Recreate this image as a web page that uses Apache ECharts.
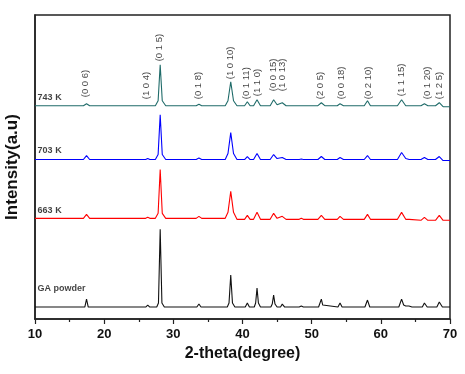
<!DOCTYPE html>
<html><head><meta charset="utf-8">
<script src="https://cdn.jsdelivr.net/npm/echarts@6/dist/echarts.min.js"></script>
<style>html,body{margin:0;padding:0;background:#fff}#c{width:465px;height:374px}</style>
</head><body><div id="c"></div>
<script>
// 2-theta range and ticks
var xTicks = [10, 20, 30, 40, 50, 60, 70];
// Traces: [2theta, stacked intensity] (offset stacking as in the figure)
var gaPowder = [[10,12],[17.2,12],[17.45,20],[17.7,12],[26.0,12],[26.3,14],[26.6,12],[27.6,12],[27.85,16],[28.1,90],[28.35,16],[28.7,12],[33.4,12],[33.7,15],[34.0,12],[37.8,12],[38.05,16],[38.3,44],[38.55,16],[38.9,12],[40.4,12],[40.7,16],[41.0,12],[41.7,12],[41.9,16],[42.1,31],[42.3,16],[42.6,12],[44.1,12],[44.3,15],[44.5,24],[44.7,15],[45.0,12],[45.5,12],[45.75,15],[46.1,12],[48.2,12],[48.5,13],[48.8,12],[51.0,12],[51.2,14],[51.4,20],[51.6,14],[51.8,12],[53.8,12],[54.1,16],[54.4,12],[57.7,12],[58.07,19],[58.4,12],[62.6,12],[62.8,14],[63.0,20],[63.3,14],[63.6,13],[64.06,13],[64.5,12],[66.0,12],[66.3,16],[66.7,12],[68.1,12],[68.45,17],[68.9,12],[70,12]];
var k663 = [[10,101],[17.0,101],[17.45,105],[17.9,101],[26.0,101],[26.3,102],[26.6,101],[27.4,101],[27.8,106],[28.1,150],[28.4,106],[28.9,101],[33.3,101],[33.7,103],[34.1,101],[37.5,101],[37.9,107],[38.3,128],[38.7,107],[39.2,100],[40.3,100],[40.7,104],[41.1,100],[41.6,100],[42.1,107],[42.6,100],[44.0,100],[44.5,106],[45.0,101],[45.75,103],[46.3,100],[48.2,100],[48.5,101],[48.8,100],[50.9,100],[51.4,104],[51.9,100],[53.7,100],[54.1,103],[54.6,100],[57.6,100],[58.07,105],[58.5,100],[62.4,100],[63.0,107],[63.6,100],[64.1,100],[65.8,99],[66.3,102],[66.8,99],[67.9,99],[68.45,104],[69.0,99],[70,99]];
var k703 = [[10,160],[17.0,160],[17.45,164],[17.9,160],[26.0,160],[26.3,161],[26.6,160],[27.4,160],[27.8,165],[28.1,205],[28.4,165],[28.9,160],[33.3,160],[33.7,161.5],[34.1,160],[37.5,160],[37.9,166],[38.3,187],[38.7,166],[39.2,160],[40.3,160],[40.7,163],[41.1,160],[41.6,160],[42.1,166],[42.6,160],[44.0,160],[44.5,165],[45.0,161],[45.75,162],[46.3,160],[48.2,160],[48.5,160.5],[48.8,160],[50.9,160],[51.4,163],[51.9,160],[53.7,160],[54.1,162],[54.6,160],[57.6,160],[58.07,164],[58.5,160],[62.4,160],[63.0,167],[63.6,161],[64.1,160],[65.8,160],[66.3,162],[66.8,160],[67.9,160],[68.45,163],[69.0,159],[70,159]];
var k743 = [[10,214],[17.0,214],[17.45,216],[17.9,214],[27.4,214],[27.8,219],[28.1,255],[28.4,219],[28.9,214],[33.3,214],[33.7,215.5],[34.1,214],[37.5,214],[37.9,219],[38.3,238],[38.7,219],[39.2,214],[40.3,214],[40.7,218],[41.1,214],[41.6,214],[42.1,220],[42.6,214],[44.0,214],[44.5,220],[45.0,215],[45.75,217],[46.3,214],[50.9,214],[51.4,217],[51.9,214],[53.7,214],[54.1,216],[54.6,214],[57.6,214],[58.07,219],[58.5,214],[62.4,214],[63.0,220],[63.6,214],[65.8,214],[66.3,216],[66.8,214],[67.9,214],[68.45,217],[69.0,213],[70,213]];
// Miller index annotations: text, 2theta, y (bottom of text)
var hklText = ['(0 0 6)','(1 0 4)','(0 1 5)','(0 1 8)','(1 0 10)','(0 1 11)','(1 1 0)','(0 0 15)','(1 0 13)','(2 0 5)','(0 0 18)','(0 2 10)','(1 1 15)','(0 1 20)','(1 2 5)'];
var hklX = [17.4, 26.2, 28.1, 33.7, 38.3, 40.6, 42.2, 44.5, 45.8, 51.4, 54.3, 58.3, 63.0, 66.8, 68.6];
var hklY = [222, 220, 258, 220, 240, 220, 223, 228, 228, 220, 220, 220, 223, 220, 220];
// Series names
var seriesNames = ['743 K', '703 K', '663 K', 'GA powder'];
var nameY = [222, 169, 108, 30];
var colors = ['#1f6b69', '#0000ff', '#ff0000', '#111111'];

var chart = echarts.init(document.getElementById('c'), null, {renderer: 'canvas'});
var traces = [k743, k703, k663, gaPowder];
var series = traces.map(function (d, i) {
  return {type: 'line', data: d, showSymbol: false, symbol: 'none', silent: true,
    lineStyle: {color: colors[i], width: 1.1}, z: 3};
});
series.push({
  type: 'scatter', symbolSize: 1, itemStyle: {color: 'rgba(0,0,0,0)'}, silent: true,
  data: hklText.map(function (t, i) { return {value: [hklX[i], hklY[i]], name: t}; }),
  label: {show: true, position: [0, 0], rotate: 90, align: 'left', verticalAlign: 'middle',
    formatter: function (p) { return p.name; }, fontSize: 9.5, color: '#111', fontFamily: 'Liberation Sans'}
});
series.push({
  type: 'scatter', symbolSize: 1, itemStyle: {color: 'rgba(0,0,0,0)'}, silent: true,
  data: seriesNames.map(function (t, i) { return {value: [10.45, nameY[i]], name: t}; }),
  label: {show: true, position: [0, 0], align: 'left', verticalAlign: 'middle',
    formatter: function (p) { return p.name; }, fontSize: 9, fontWeight: 'bold', color: '#111', fontFamily: 'Liberation Sans'}
});

chart.setOption({
  animation: false,
  backgroundColor: '#fff',
  grid: {left: 35, right: 15, top: 15, bottom: 55, show: true, borderColor: '#222', borderWidth: 1.5,
    containLabel: false, outerBoundsMode: 'none'},
  xAxis: {type: 'value', min: 10, max: 70, interval: 10,
    name: '2-theta(degree)', nameLocation: 'middle', nameGap: 26,
    nameTextStyle: {fontSize: 16, fontWeight: 'bold', color: '#111', fontFamily: 'Liberation Sans'},
    axisLine: {show: true, lineStyle: {color: '#222', width: 1.5}},
    axisTick: {show: true, length: 5, lineStyle: {color: '#222', width: 1.2}},
    minorTick: {show: true, splitNumber: 2, length: 3, lineStyle: {color: '#222', width: 1.2}},
    axisLabel: {fontSize: 13, fontWeight: 'bold', color: '#111', margin: 9, fontFamily: 'Liberation Sans',
      formatter: function (v) { return xTicks.indexOf(v) >= 0 ? String(v) : ''; }},
    splitLine: {show: false}},
  yAxis: {type: 'value', min: 0, max: 305,
    name: 'Intensity(a.u)', nameLocation: 'middle', nameGap: 14, nameRotate: 90,
    nameTextStyle: {fontSize: 17, fontWeight: 'bold', color: '#111', fontFamily: 'Liberation Sans'},
    axisLine: {show: true, lineStyle: {color: '#222', width: 1.5}},
    axisTick: {show: false}, axisLabel: {show: false}, splitLine: {show: false}},
  series: series
});
</script></body></html>
